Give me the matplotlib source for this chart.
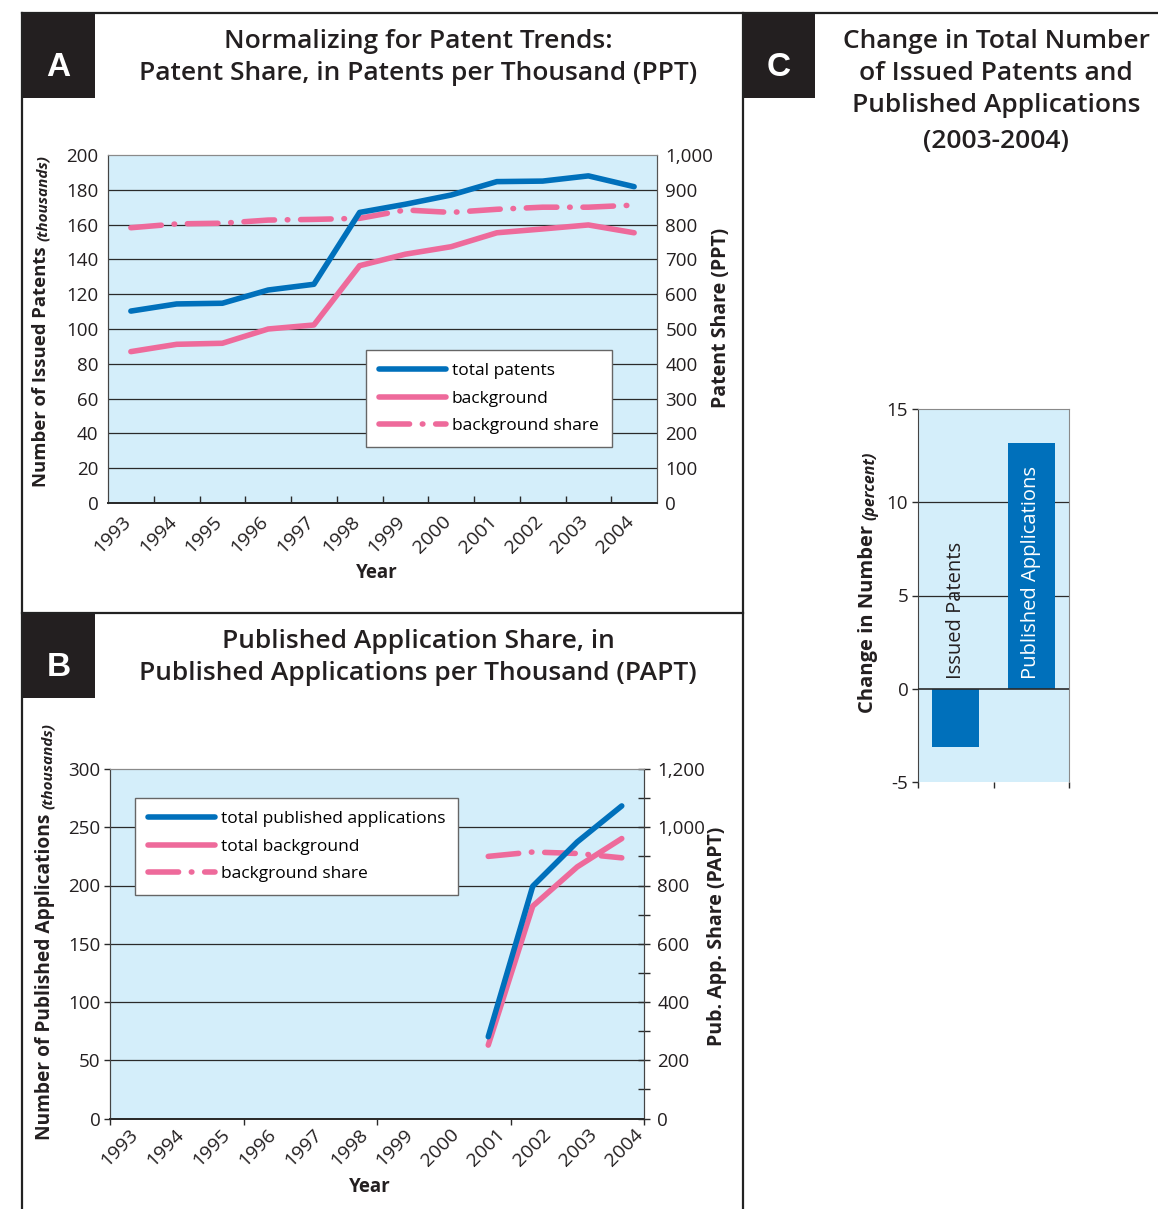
import matplotlib
matplotlib.use("Agg")
import matplotlib.pyplot as plt
import numpy as np
from matplotlib.lines import Line2D
from matplotlib.patches import Rectangle

# ---------------- data ----------------
years = ['1993', '1994', '1995', '1996', '1997', '1998',
         '1999', '2000', '2001', '2002', '2003', '2004']
total_patents = [110.3, 114.4, 114.8, 122.4, 125.7, 167.0,
                 171.7, 177.0, 184.7, 185.0, 188.0, 181.8]
background_patents = [87.0, 91.2, 91.8, 100.0, 102.3, 136.4,
                      143.0, 147.3, 155.3, 157.5, 159.8, 155.3]
background_share_ppt = [791, 802, 804, 813, 815, 818,
                        842, 835, 844, 850, 850, 856]

pub_years = ['2001', '2002', '2003', '2004']
total_pub_apps = [70.2, 199.4, 237.4, 268.3]
background_pub_apps = [63.0, 182.3, 216.0, 240.3]
background_share_papt = [900, 915, 910, 895]

change_categories = ['Issued Patents', 'Published Applications']
change_pct = [-3.1, 13.2]

yticks_A_left = [0, 20, 40, 60, 80, 100, 120, 140, 160, 180, 200]
yticks_A_right = [0, 100, 200, 300, 400, 500, 600, 700, 800, 900, 1000]
yticks_B_left = [0, 50, 100, 150, 200, 250, 300]
yticks_B_right = [0, 100, 200, 300, 400, 500, 600, 700, 800, 900, 1000, 1100, 1200]
yticks_C = [-5, 0, 5, 10, 15]

# ---------------- style ----------------
FONT = ['Open Sans', 'DejaVu Sans']
plt.rcParams['font.family'] = FONT
plt.rcParams['axes.unicode_minus'] = False
W, H = 1158, 1209
BG = '#D4EEFA'
BLUE = '#0070BB'
PINK = '#EE6A9B'
TXT = '#231f20'
DARK = '#2a2a2a'
GRAY = '#8a8a8a'
LW = 4.0
DASH = (5.5, 2.3, 0.1, 2.3)

fig = plt.figure(figsize=(W / 100, H / 100), dpi=100)
fig.patch.set_facecolor('white')


def fx(px):
    return px / W


def fy(py):
    return 1 - py / H


def fmt_thousands(v):
    return f"{v:,}"


# ---------------- frame & letter boxes ----------------
frame_kw = dict(color='#222222', lw=1.6, transform=fig.transFigure)
fig.add_artist(Line2D([fx(22), 1.0], [fy(13), fy(13)], **frame_kw))
fig.add_artist(Line2D([fx(22), fx(22)], [fy(13), 0], **frame_kw))
fig.add_artist(Line2D([fx(743), fx(743)], [fy(13), 0], **frame_kw))
fig.add_artist(Line2D([fx(22), fx(743)], [fy(613), fy(613)], **frame_kw))

for (x0, y0, x1, y1, letter) in [(22, 13, 95, 98, 'A'), (22, 613, 95, 698, 'B'), (743, 13, 815, 98, 'C')]:
    fig.add_artist(Rectangle((fx(x0), fy(y1)), fx(x1) - fx(x0), fy(y0) - fy(y1),
                             transform=fig.transFigure, facecolor=TXT, edgecolor='none'))
    fig.text(fx((x0 + x1) / 2), fy(y0 + 55), letter, ha='center', va='center', color='white',
             fontsize=24, fontweight='bold', family=['Liberation Sans', 'DejaVu Sans'])

# titles
title_kw = dict(ha='center', va='center', fontsize=19, fontweight='semibold', color=TXT)
fig.text(fx(418), fy(41), 'Normalizing for Patent Trends:', **title_kw)
fig.text(fx(418), fy(73), 'Patent Share, in Patents per Thousand (PPT)', **title_kw)
fig.text(fx(418), fy(641), 'Published Application Share, in', **title_kw)
fig.text(fx(418), fy(673), 'Published Applications per Thousand (PAPT)', **title_kw)
fig.text(fx(996), fy(41), 'Change in Total Number', **title_kw)
fig.text(fx(996), fy(73), 'of Issued Patents and', **title_kw)
fig.text(fx(996), fy(105), 'Published Applications', **title_kw)
fig.text(fx(996), fy(142), '(2003-2004)', **title_kw)

TICK_FS = 13.5
YEAR_FS = 14
LEG_FS = 12.5

# ---------------- Panel A ----------------
axA2 = fig.add_axes([fx(108), fy(503), fx(657) - fx(108), fy(155) - fy(503)])
axA = axA2.twinx()
axA.yaxis.tick_left()
axA.yaxis.set_label_position('left')
axA2.yaxis.tick_right()
axA.set_zorder(axA2.get_zorder() + 1)
axA.patch.set_visible(False)
axA2.set_facecolor(BG)

x = np.arange(len(years))
axA.plot(x, total_patents, color=BLUE, lw=LW, solid_capstyle='round', solid_joinstyle='round', zorder=4)
axA.plot(x, background_patents, color=PINK, lw=LW, solid_capstyle='round', solid_joinstyle='round', zorder=3)
axA2.plot(x, background_share_ppt, color=PINK, lw=LW, dashes=DASH, dash_capstyle='round', zorder=3)

axA.set_ylim(0, 200)
axA2.set_ylim(0, 1000)
axA2.set_xlim(-0.5, len(years) - 0.5)
for v in yticks_A_right[1:-1]:
    axA2.axhline(v, color=DARK, lw=0.9, zorder=1)

axA.set_yticks(yticks_A_left)
axA.tick_params(axis='y', length=0, pad=7, labelsize=TICK_FS, labelcolor=TXT)
axA2.set_yticks(yticks_A_right)
axA2.set_yticklabels([fmt_thousands(v) for v in yticks_A_right])
axA2.tick_params(axis='y', length=0, pad=6, labelsize=TICK_FS, labelcolor=TXT)

axA2.set_xticks(x - 0.2)
axA2.set_xticklabels(years, rotation=45, ha='right', va='top', rotation_mode='anchor',
                     fontsize=YEAR_FS, color=TXT)
axA2.tick_params(axis='x', which='major', length=0, pad=7)
axA2.set_xticks(np.arange(0.5, len(years) - 1, 1.0), minor=True)
axA2.tick_params(axis='x', which='minor', direction='in', length=5, color=DARK, width=1)

for a in (axA, axA2):
    a.spines['top'].set_color(GRAY)
    a.spines['right'].set_color('#555555')
    a.spines['left'].set_color('#444444')
    a.spines['bottom'].set_color(DARK)
    a.spines['bottom'].set_linewidth(1.3)

leg_kw = dict(loc='upper left', fontsize=LEG_FS, frameon=True, fancybox=False, framealpha=1,
              edgecolor='#666666', handlelength=3.85, handletextpad=0.35, labelspacing=0.65,
              borderpad=0.75, borderaxespad=0)
handles_A = [Line2D([], [], color=BLUE, lw=LW, solid_capstyle='round'),
             Line2D([], [], color=PINK, lw=LW, solid_capstyle='round'),
             Line2D([], [], color=PINK, lw=LW, dashes=DASH, dash_capstyle='round')]
legA = axA.legend(handles_A, ['total patents', 'background', 'background share'],
                  bbox_to_anchor=((366 - 108) / 549, (503 - 350) / 348), **leg_kw)
legA.get_frame().set_linewidth(1.0)

fig.text(fx(377), fy(573), 'Year', ha='center', va='center', fontsize=13.5, fontweight='bold', color=TXT)
fig.text(fx(721), fy(318), 'Patent Share (PPT)', ha='center', va='center', rotation=90,
         fontsize=14, fontweight='bold', color=TXT)

# ---------------- Panel B ----------------
axB2 = fig.add_axes([fx(110), fy(1118.5), fx(644) - fx(110), fy(769) - fy(1118.5)])
axB = axB2.twinx()
axB.yaxis.tick_left()
axB.yaxis.set_label_position('left')
axB2.yaxis.tick_right()
axB.set_zorder(axB2.get_zorder() + 1)
axB.patch.set_visible(False)
axB2.set_facecolor(BG)

xb = np.array([years.index(y) for y in pub_years])
axB.plot(xb, total_pub_apps, color=BLUE, lw=LW, solid_capstyle='round', solid_joinstyle='round', zorder=4)
axB.plot(xb, background_pub_apps, color=PINK, lw=LW, solid_capstyle='round', solid_joinstyle='round', zorder=3)
axB2.plot(xb, background_share_papt, color=PINK, lw=LW, dashes=DASH, dash_capstyle='round', zorder=3)

axB.set_ylim(0, 300)
axB2.set_ylim(0, 1200)
axB2.set_xlim(-0.5, len(years) - 0.5)
for v in yticks_B_left[1:-1]:
    axB.axhline(v, color=DARK, lw=0.9, zorder=1)

axB.set_yticks(yticks_B_left)
axB.tick_params(axis='y', direction='out', length=4, width=1, color=DARK, pad=3,
                labelsize=TICK_FS, labelcolor=TXT)
axB2.set_yticks(yticks_B_right)
axB2.set_yticklabels([fmt_thousands(v) if v % 200 == 0 else '' for v in yticks_B_right])
axB2.tick_params(axis='y', direction='inout', length=9, width=1, color=DARK, pad=5,
                 labelsize=TICK_FS, labelcolor=TXT)

label_pos_B = np.linspace(-0.08, 11.27, len(years))
axB2.set_xticks(label_pos_B)
axB2.set_xticklabels(years, rotation=45, ha='right', va='top', rotation_mode='anchor',
                     fontsize=YEAR_FS, color=TXT)
axB2.tick_params(axis='x', which='major', length=0, pad=5)
axB2.set_xticks([-0.5, 2.5, 5.5, 8.5, 11.5], minor=True)
axB2.tick_params(axis='x', which='minor', direction='out', length=4, color=DARK, width=1)

for a in (axB, axB2):
    a.spines['top'].set_color(GRAY)
    a.spines['right'].set_color('#444444')
    a.spines['left'].set_color('#444444')
    a.spines['bottom'].set_color(DARK)
    a.spines['bottom'].set_linewidth(1.3)

handles_B = [Line2D([], [], color=BLUE, lw=LW, solid_capstyle='round'),
             Line2D([], [], color=PINK, lw=LW, solid_capstyle='round'),
             Line2D([], [], color=PINK, lw=LW, dashes=DASH, dash_capstyle='round')]
legB = axB.legend(handles_B, ['total published applications', 'total background', 'background share'],
                  bbox_to_anchor=((135 - 110) / 534, (1118.5 - 798) / 349.5), **leg_kw)
legB.get_frame().set_linewidth(1.0)

fig.text(fx(370), fy(1187), 'Year', ha='center', va='center', fontsize=13.5, fontweight='bold', color=TXT)
fig.text(fx(717), fy(936), 'Pub. App. Share (PAPT)', ha='center', va='center', rotation=90,
         fontsize=14, fontweight='bold', color=TXT)

# ---------------- Panel C ----------------
axC = fig.add_axes([fx(918), fy(782), fx(1069) - fx(918), fy(409) - fy(782)])
axC.set_facecolor(BG)
xc = np.arange(len(change_categories))
axC.bar(xc, change_pct, width=0.62, color=BLUE, zorder=3)
axC.set_xlim(-0.5, len(change_categories) - 0.5)
axC.set_ylim(-5, 15)
axC.set_yticks(yticks_C)
axC.tick_params(axis='y', direction='out', length=4, width=1, color=DARK, pad=3,
                labelsize=TICK_FS, labelcolor=TXT)
axC.set_xticks([])
axC.set_xticks([-0.5, 0.5, 1.5], minor=True)
axC.tick_params(axis='x', which='minor', direction='out', length=4, color=DARK, width=1)
for v in yticks_C[2:-1]:
    axC.axhline(v, color=DARK, lw=0.9, zorder=1)
axC.axhline(0, color=DARK, lw=1.2, zorder=4)
axC.spines['top'].set_color(GRAY)
axC.spines['right'].set_color(GRAY)
axC.spines['left'].set_color('#444444')
axC.spines['bottom'].set_visible(False)

axC.text(xc[0], 0.5, change_categories[0], rotation=90, ha='center', va='bottom',
         fontsize=14.5, color=TXT, zorder=5)
axC.text(xc[1], 0.5, change_categories[1], rotation=90, ha='center', va='bottom',
         fontsize=14.5, color='white', zorder=5)

# ---------------- two-part rotated y labels ----------------
renderer = fig.canvas.get_renderer()


def rot_label(x_px, y0_px, main, sub, fs_main=13.3, fs_sub=11):
    t = fig.text(fx(x_px), fy(y0_px), main, rotation=90, ha='center', va='bottom',
                 fontsize=fs_main, fontweight='bold', color=TXT)
    bb = t.get_window_extent(renderer)
    fig.text(bb.x1 / W, (bb.y1 + 5) / H, sub, rotation=90, ha='right', va='bottom',
             fontsize=fs_sub, fontweight='bold', style='italic', color=TXT)


rot_label(41, 487, 'Number of Issued Patents', '(thousands)')
rot_label(45, 1140, 'Number of Published Applications', '(thousands)', fs_main=13.8)
rot_label(868, 713, 'Change in Number', '(percent)', fs_main=14.5, fs_sub=11.5)

fig.savefig('out.png', dpi=100, facecolor='white')
